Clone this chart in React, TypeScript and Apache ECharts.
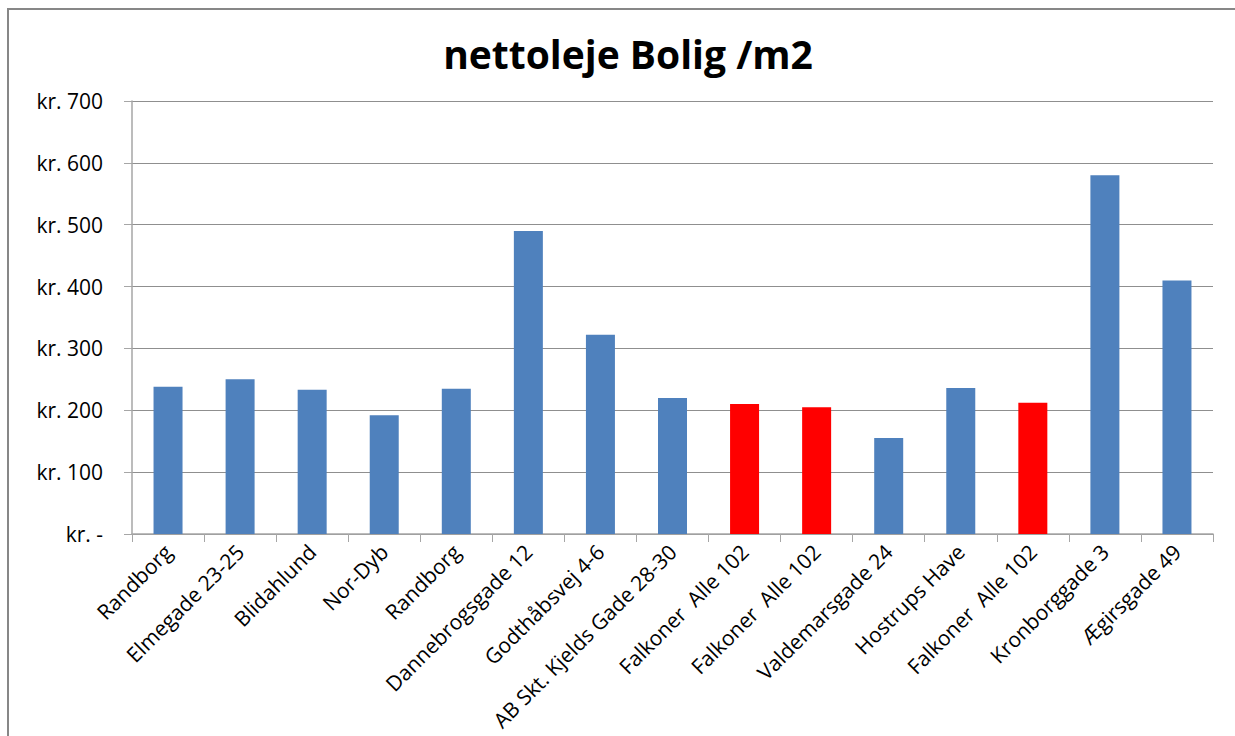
import React, { useEffect, useRef } from "react";
import * as echarts from "echarts";

const categories = [
  "Randborg",
  "Elmegade 23-25",
  "Blidahlund",
  "Nor-Dyb",
  "Randborg",
  "Dannebrogsgade 12",
  "Godthåbsvej 4-6",
  "AB Skt. Kjelds Gade 28-30",
  "Falkoner  Alle 102",
  "Falkoner  Alle 102",
  "Valdemarsgade 24",
  "Hostrups Have",
  "Falkoner  Alle 102",
  "Kronborggade 3",
  "Ægirsgade 49",
];
const values = [238, 250, 233, 192, 235, 490, 322, 220, 210, 205, 155, 236, 212, 580, 410];
const highlighted = [false, false, false, false, false, false, false, false, true, true, false, false, true, false, false];
const yTicks = { min: 0, max: 700, interval: 100 };
const title = "nettoleje Bolig /m2";

const BLUE = "#4F81BD";
const RED = "#FF0000";
const FONT = "Open Sans";

export default function App() {
  const ref = useRef<HTMLDivElement>(null);
  useEffect(() => {
    if (!ref.current) return;
    const chart = echarts.init(ref.current, null, { renderer: "svg" });
    chart.setOption({
      animation: false,
      backgroundColor: "#fff",
      title: {
        text: title,
        left: 623,
        textAlign: "center",
        top: 29,
        textStyle: { fontFamily: FONT, fontSize: 39, fontWeight: "bold", color: "#000" },
      },
      graphic: [
        {
          type: "rect",
          shape: { x: 8, y: 9, width: 1260, height: 760 },
          style: { fill: "none", stroke: "#878787", lineWidth: 2 },
          silent: true,
        },
      ],
      grid: { left: 132, right: 22, top: 101, bottom: 202 },
      xAxis: {
        type: "category",
        data: categories,
        axisLine: { show: true, lineStyle: { color: "#a6a6a6", width: 1.5 } },
        axisTick: { show: true, length: 8, alignWithLabel: false, lineStyle: { color: "#a6a6a6" } },
        axisLabel: {
          rotate: 45,
          interval: 0,
          margin: 14,
          fontFamily: FONT,
          fontSize: 21,
          color: "#000",
        },
      },
      yAxis: {
        type: "value",
        min: yTicks.min,
        max: yTicks.max,
        interval: yTicks.interval,
        axisLine: { show: true, lineStyle: { color: "#a6a6a6", width: 1.5 } },
        axisTick: { show: true, length: 8, lineStyle: { color: "#a6a6a6" } },
        splitLine: { show: true, lineStyle: { color: "#8f8f8f", width: 1 } },
        axisLabel: {
          margin: 29,
          fontFamily: FONT,
          fontSize: 21,
          color: "#000",
          formatter: (v: number) => (v === 0 ? "kr. -" : "kr. " + v),
        },
      },
      series: [
        {
          type: "bar",
          data: values.map((v, i) => ({
            value: v,
            itemStyle: { color: highlighted[i] ? RED : BLUE },
          })),
          barWidth: 29,
        },
      ],
    });
    return () => chart.dispose();
  }, []);
  return (
    <div
      ref={ref}
      style={{ position: "fixed", left: 0, top: 0, width: 1235, height: 736 }}
    />
  );
}
